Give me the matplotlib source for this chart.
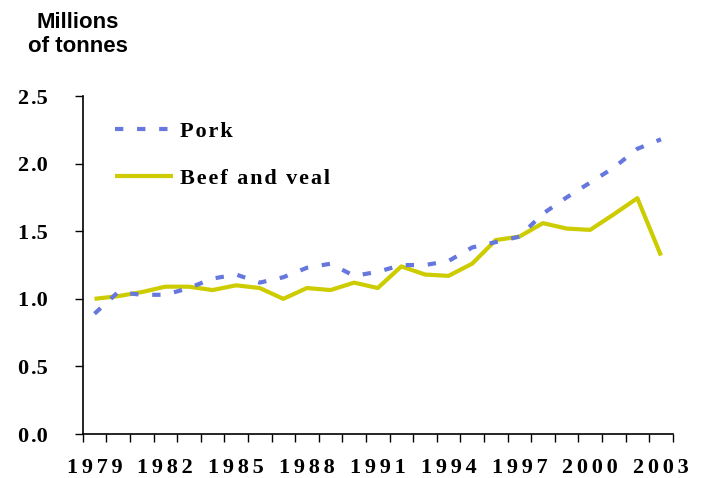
import numpy as np
import matplotlib
matplotlib.use("Agg")
import matplotlib.pyplot as plt
from matplotlib.lines import Line2D

years = list(range(1979, 2004))
pork = [0.89, 1.05, 1.03, 1.03, 1.08, 1.15, 1.18, 1.12, 1.16, 1.23,
        1.26, 1.17, 1.20, 1.25, 1.25, 1.28, 1.38, 1.42, 1.46, 1.63,
        1.75, 1.86, 1.97, 2.11, 2.18]
beef = [1.00, 1.02, 1.05, 1.09, 1.09, 1.065, 1.10, 1.08, 1.00, 1.08,
        1.065, 1.12, 1.08, 1.24, 1.18, 1.17, 1.26, 1.435, 1.46, 1.56,
        1.52, 1.51, 1.625, 1.745, 1.32]
yticks = [0.0, 0.5, 1.0, 1.5, 2.0, 2.5]
label_years = years[::3]

pork_col = "#6677dd"
beef_col = "#cccc00"

plt.rcParams["font.family"] = "Liberation Serif"
plt.rcParams["font.weight"] = "bold"
plt.rcParams["font.size"] = 16

HAIR = "\u200a"


def spaced(s, sep=HAIR):
    # fake letter spacing
    return sep.join(s)


fig = plt.figure(figsize=(7.01, 4.78), dpi=100)
ax = fig.add_axes([0.118, 0.092, 0.8417, 0.707])

x = np.arange(len(years))
ax.plot(x, beef, color=beef_col, lw=3, solid_capstyle="butt", zorder=2)
ax.plot(x, pork, color=pork_col, lw=3, dashes=(2, 3.3), dash_capstyle="butt", zorder=3)

ax.set_xlim(-0.5, len(years) - 0.5)
ax.set_ylim(0, 2.5)

# category axis: tick marks between years, labels on the year
ax.set_xticks(np.arange(-0.5, len(years), 1.0))
ax.set_xticklabels([])
ax.set_xticks([years.index(y) for y in label_years], minor=True)
ax.set_xticklabels([spaced(str(y), HAIR * 2) for y in label_years], minor=True)
ax.tick_params(axis="x", which="major", direction="out", length=6, width=1)
ax.tick_params(axis="x", which="minor", length=0, pad=17)

ax.set_yticks(yticks)
ax.set_yticklabels([f"{v:.1f}".replace(".", HAIR + ".") for v in yticks])
ax.tick_params(axis="y", direction="out", length=6, width=1, pad=19)

for s in ["top", "right"]:
    ax.spines[s].set_visible(False)
for s in ["left", "bottom"]:
    ax.spines[s].set_linewidth(1.2)

handles = [
    Line2D([], [], color=pork_col, lw=3, dashes=(2, 3.3), dash_capstyle="butt"),
    Line2D([], [], color=beef_col, lw=3, solid_capstyle="butt"),
]
ax.legend(handles, [spaced("Pork"), spaced("Beef and veal")], loc="upper left",
          bbox_to_anchor=(0.055, 0.926), frameon=False, borderpad=0,
          borderaxespad=0, handlelength=2.6, handletextpad=0.3,
          labelspacing=1.2, prop={"size": 16})

fig.text(0.1106, 0.975, "Millions\nof tonnes", ha="center", va="top",
         fontfamily="Liberation Sans", fontweight="bold", fontsize=16,
         linespacing=1.2)

fig.savefig("out.png", dpi=100)
